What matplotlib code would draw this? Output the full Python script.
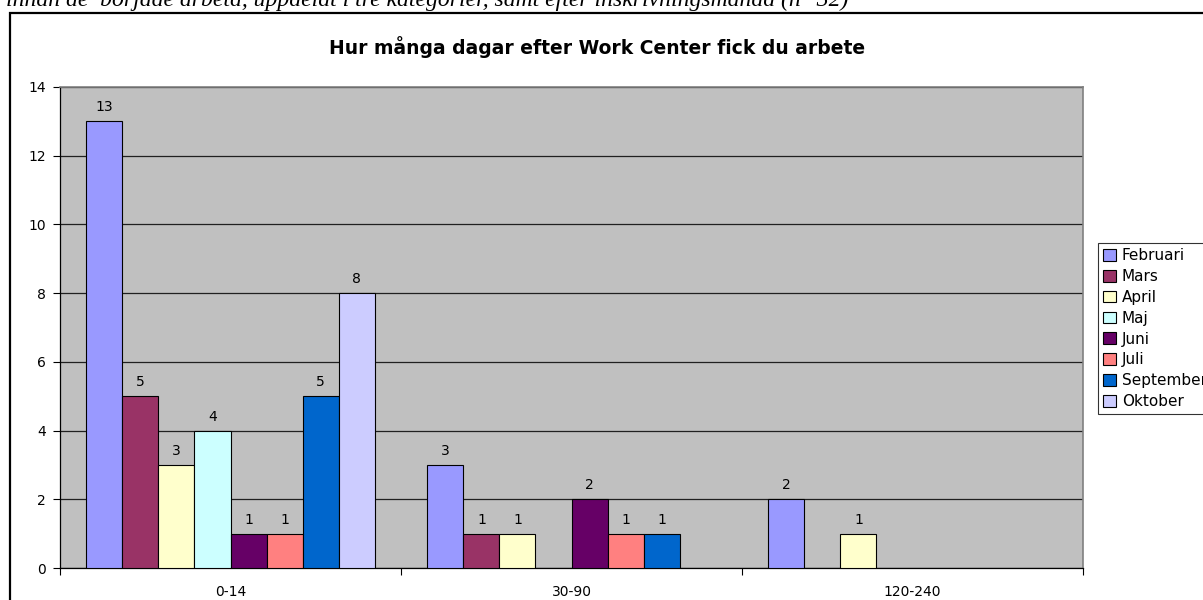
import numpy as np
import matplotlib.pyplot as plt
from matplotlib.patches import Rectangle

# Kategorier och antal per inskrivningsmånad
kategorier = ['0-14', '30-90', '120-240']
manader = ['Februari', 'Mars', 'April', 'Maj', 'Juni', 'Juli', 'September', 'Oktober']
varden = {
    'Februari':  [13, 3, 2],
    'Mars':      [5, 1, 0],
    'April':     [3, 1, 1],
    'Maj':       [4, 0, 0],
    'Juni':      [1, 2, 0],
    'Juli':      [1, 1, 0],
    'September': [5, 1, 0],
    'Oktober':   [8, 0, 0],
}
farger = ['#9999FF', '#993366', '#FFFFCC', '#CCFFFF', '#660066', '#FF8080', '#0066CC', '#CCCCFF']

plt.rcParams.update({'font.family': 'DejaVu Sans', 'font.size': 10})

W, H = 1203, 600
fig = plt.figure(figsize=(W / 100, H / 100), dpi=100)
ax = fig.add_axes([60 / W, 32 / H, 1023 / W, 481 / H])
ax.set_facecolor('#C0C0C0')

x = np.arange(len(kategorier))
bredd = 0.1056
start = -bredd * len(manader) / 2 + bredd / 2

for i, (m, f) in enumerate(zip(manader, farger)):
    vals = np.array(varden[m])
    pos = x + start + i * bredd
    mask = vals > 0
    ax.bar(pos[mask], vals[mask], width=bredd, color=f, edgecolor='black',
           linewidth=0.8, label=m, zorder=3)
    for p, v in zip(pos[mask], vals[mask]):
        ax.annotate(str(v), (p, v), xytext=(0, 5), textcoords='offset points',
                    ha='center', va='bottom', fontsize=10)

ax.set_xlim(-0.5, len(kategorier) - 0.5)
ax.set_ylim(0, 14)
ax.set_yticks(range(0, 15, 2))
ax.yaxis.grid(True, color='#202020', linewidth=0.9, zorder=0)
ax.set_axisbelow(True)

ax.set_xticks(x)
ax.set_xticklabels(kategorier)
ax.set_xticks(np.arange(-0.5, len(kategorier)), minor=True)
ax.tick_params(axis='x', which='major', length=0, pad=12)
ax.tick_params(axis='x', which='minor', length=5, direction='out', width=0.8)
ax.tick_params(axis='y', length=5, direction='out', width=0.8, pad=5)

for s in ['left', 'bottom']:
    ax.spines[s].set_color('black')
    ax.spines[s].set_linewidth(0.9)
for s in ['top', 'right']:
    ax.spines[s].set_color('#808080')
    ax.spines[s].set_linewidth(1.2)

fig.text(597 / W, 1 - 47 / H, 'Hur många dagar efter Work Center fick du arbete',
         ha='center', va='center', fontsize=13.5, fontweight='bold')

leg = ax.legend(loc='upper left', bbox_to_anchor=(1098 / W, 1 - 243 / H),
                bbox_transform=fig.transFigure, fancybox=False, frameon=True,
                edgecolor='black', fontsize=11, handlelength=0.8, handleheight=0.8,
                handletextpad=0.4, labelspacing=0.38, borderpad=0.35, borderaxespad=0)
leg.get_frame().set_linewidth(0.8)
for h in leg.legend_handles:
    h.set_linewidth(0.8)

# Ram runt diagrammet och avskuren text ovanför
fig.patches.append(Rectangle((10 / W, -0.1), 1.2, 1.1 - 13 / H, transform=fig.transFigure,
                             fill=False, edgecolor='black', linewidth=1.6, clip_on=False))
fig.text(848 / W, 1 - 6 / H,
         'varit inskrivna innan de  började arbeta, uppdelat i tre kategorier, samt efter inskrivningsmånad (n=32)',
         ha='right', va='baseline', fontsize=17, style='italic', family='Liberation Serif')

fig.savefig('out.png', dpi=100)
